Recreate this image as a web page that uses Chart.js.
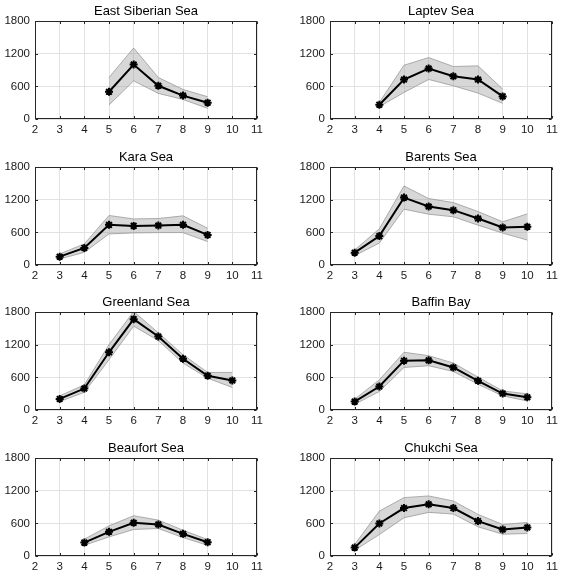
<!DOCTYPE html>
<html>
<head>
<meta charset="utf-8">
<script src="https://cdn.jsdelivr.net/npm/chart.js@4.4.1/dist/chart.umd.min.js"></script>
<style>
  html, body { margin: 0; padding: 0; background: #fff; }
  body { position: relative; width: 566px; height: 581px; overflow: hidden; }
  canvas { position: absolute; }
</style>
</head>
<body>
<script>
// panel titles, in reading order (left to right, top to bottom)
const seas = [
  "East Siberian Sea", "Laptev Sea",
  "Kara Sea", "Barents Sea",
  "Greenland Sea", "Baffin Bay",
  "Beaufort Sea", "Chukchi Sea"
];

// months shown on each panel
const months = [
  [5, 6, 7, 8, 9],
  [4, 5, 6, 7, 8, 9],
  [3, 4, 5, 6, 7, 8, 9],
  [3, 4, 5, 6, 7, 8, 9, 10],
  [3, 4, 5, 6, 7, 8, 9, 10],
  [3, 4, 5, 6, 7, 8, 9, 10],
  [4, 5, 6, 7, 8, 9],
  [3, 4, 5, 6, 7, 8, 9, 10]
];

// mean values (black line)
const meanVals = [
  [500, 1000, 610, 430, 300],
  [262, 725, 927, 785, 725, 415],
  [153, 313, 737, 718, 724, 740, 552],
  [226, 531, 1238, 1074, 1007, 854, 689, 702],
  [203, 394, 1060, 1669, 1349, 942, 628, 542],
  [154, 431, 906, 912, 782, 536, 302, 234],
  [246, 444, 610, 579, 407, 253],
  [154, 598, 881, 949, 881, 641, 487, 524]
];

// upper edge of grey band
const upperVals = [
  [762, 1305, 762, 543, 409],
  [305, 988, 1128, 964, 976, 549],
  [203, 387, 909, 847, 853, 903, 675],
  [275, 665, 1452, 1220, 1147, 982, 793, 939],
  [259, 462, 1201, 1810, 1417, 1016, 690, 690],
  [197, 554, 1060, 998, 862, 604, 351, 296],
  [308, 554, 739, 659, 474, 302],
  [209, 825, 1072, 1103, 1010, 764, 579, 616]
];

// lower edge of grey band
const lowerVals = [
  [256, 701, 470, 360, 195],
  [226, 488, 726, 610, 476, 287],
  [110, 233, 571, 589, 595, 595, 430],
  [171, 403, 1025, 933, 885, 732, 586, 458],
  [154, 326, 924, 1540, 1275, 862, 585, 413],
  [105, 339, 782, 813, 708, 474, 259, 166],
  [197, 351, 487, 505, 339, 197],
  [105, 394, 702, 801, 770, 536, 400, 413]
];

const xTicks = [2, 3, 4, 5, 6, 7, 8, 9, 10, 11];
const yTicks = [0, 600, 1200, 1800];

// plot area placement
const colLeft = [35, 330];
const rowTop = [21, 167, 312, 458];
const plotW = 222, plotH = 98;
const axisW = 34, titleH = 24, xAxisH = 22, padRight = 12;

const FONT = "'Liberation Sans', Arial, Helvetica, sans-serif";

// MATLAB-like box with inward ticks
const boxPlugin = {
  id: "box",
  afterDraw(chart) {
    const { ctx, chartArea: a, scales } = chart;
    const l = Math.round(a.left) + 0.5, r = Math.round(a.right) - 0.5;
    const t = Math.round(a.top) + 0.5, b = Math.round(a.bottom) - 0.5;
    ctx.save();
    ctx.strokeStyle = "#262626";
    ctx.lineWidth = 1;
    ctx.strokeRect(l, t, r - l, b - t);
    ctx.beginPath();
    xTicks.forEach(v => {
      const px = Math.round(scales.x.getPixelForValue(v)) + 0.5;
      ctx.moveTo(px, b); ctx.lineTo(px, b - 2.5);
      ctx.moveTo(px, t); ctx.lineTo(px, t + 2.5);
    });
    yTicks.forEach(v => {
      const py = Math.round(scales.y.getPixelForValue(v)) + 0.5;
      ctx.moveTo(l, py); ctx.lineTo(l + 2.5, py);
      ctx.moveTo(r, py); ctx.lineTo(r - 2.5, py);
    });
    ctx.stroke();
    ctx.restore();
  }
};

const toXY = (xs, ys) => xs.map((x, i) => ({ x: x, y: ys[i] }));

seas.forEach((name, i) => {
  const cv = document.createElement("canvas");
  cv.width = axisW + plotW + padRight;
  cv.height = titleH + plotH + xAxisH;
  cv.style.left = (colLeft[i % 2] - axisW) + "px";
  cv.style.top = (rowTop[Math.floor(i / 2)] - titleH) + "px";
  document.body.appendChild(cv);

  new Chart(cv.getContext("2d"), {
    type: "line",
    data: {
      datasets: [
        {
          data: toXY(months[i], meanVals[i]),
          borderColor: "#000",
          borderWidth: 2,
          pointStyle: "star",
          pointRadius: 4,
          pointBorderWidth: 2,
          pointBorderColor: "#000",
          pointBackgroundColor: "#000",
          fill: false,
          tension: 0
        },
        {
          data: toXY(months[i], upperVals[i]),
          borderColor: "#9a9a9a",
          borderWidth: 0.8,
          pointRadius: 0,
          backgroundColor: "rgba(150,150,150,0.38)",
          fill: "+1",
          tension: 0
        },
        {
          data: toXY(months[i], lowerVals[i]),
          borderColor: "#9a9a9a",
          borderWidth: 0.8,
          pointRadius: 0,
          fill: false,
          tension: 0
        }
      ]
    },
    options: {
      responsive: false,
      animation: false,
      devicePixelRatio: 1,
      layout: { padding: { left: 0, right: padRight, top: 0, bottom: 0 } },
      plugins: {
        legend: { display: false },
        tooltip: { enabled: false },
        title: {
          display: true,
          text: name,
          fullSize: false,
          color: "#000",
          font: { family: FONT, size: 13, weight: "normal", lineHeight: 1.2 },
          padding: { top: 6.7, bottom: 1.7 }
        }
      },
      scales: {
        x: {
          type: "linear",
          min: 2,
          max: 11,
          afterBuildTicks: s => { s.ticks = xTicks.map(v => ({ value: v })); },
          afterFit: s => { s.height = xAxisH; s.paddingLeft = 0; s.paddingRight = 0; },
          grid: { color: "#e2e2e2", drawTicks: false },
          border: { display: false },
          ticks: {
            color: "#1a1a1a", padding: 4,
            font: { family: FONT, size: 11.5 },
            callback: v => String(v)
          }
        },
        y: {
          min: 0,
          max: 1800,
          afterBuildTicks: s => { s.ticks = yTicks.map(v => ({ value: v })); },
          afterFit: s => { s.width = axisW; s.paddingTop = 0; s.paddingBottom = 0; },
          grid: { color: "#e2e2e2", drawTicks: false },
          border: { display: false },
          ticks: {
            color: "#1a1a1a", padding: 5,
            font: { family: FONT, size: 11.5 },
            callback: v => String(v)
          }
        }
      }
    },
    plugins: [boxPlugin]
  });
});
</script>
</body>
</html>
